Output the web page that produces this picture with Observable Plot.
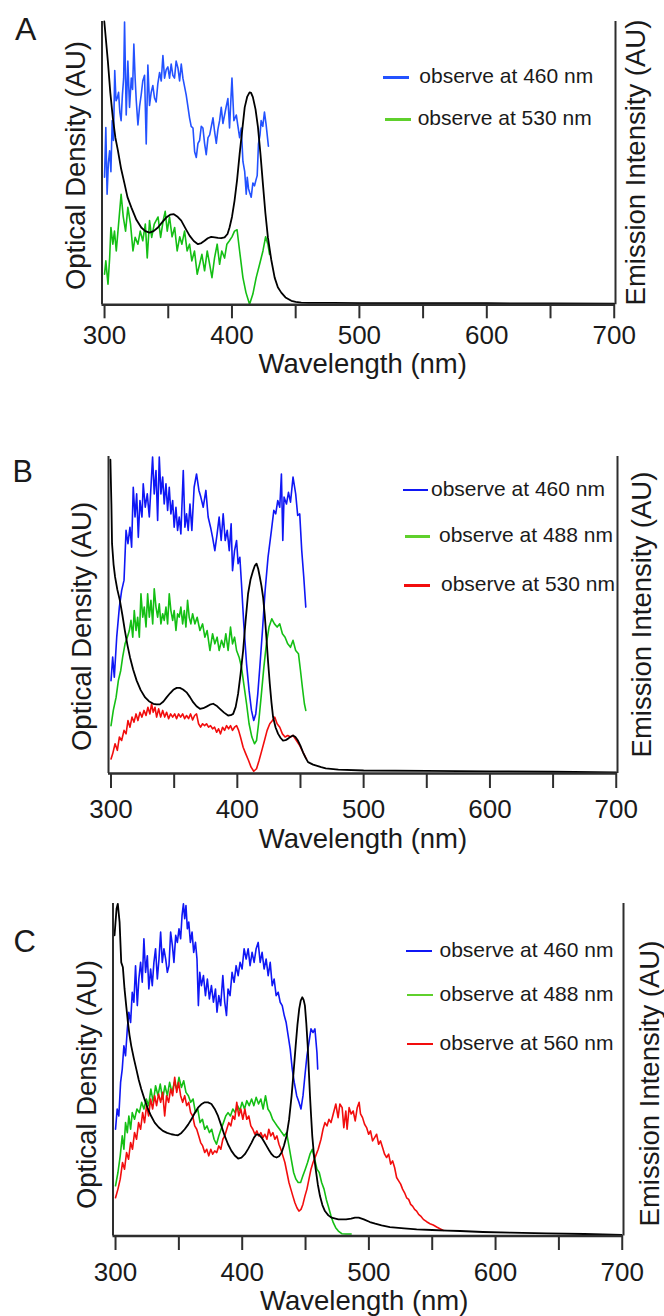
<!DOCTYPE html>
<html>
<head>
<meta charset="utf-8">
<script src="https://cdn.jsdelivr.net/npm/d3@7"></script>
<script src="https://cdn.jsdelivr.net/npm/@observablehq/plot@0.6"></script>
<style>
  html, body { margin: 0; padding: 0; background: #fff; }
  #root { position: relative; width: 664px; height: 1316px; overflow: hidden;
          font-family: "Liberation Sans", Arial, Helvetica, sans-serif; color: #1a1a1a; }
  .panel { position: absolute; left: 0; }
  .txt { position: absolute; white-space: nowrap; }
  .bar { position: absolute; }
</style>
</head>
<body>
<div id="root"></div>
<script>
// ---------------- axis / text data ----------------
const xDomain = [298, 701];
const yDomain = [0, 100];
const tickValues = [300, 350, 400, 450, 500, 550, 600, 650, 700];
const tickLabelValues = [300, 400, 500, 600, 700];
const xTitle = "Wavelength (nm)";
const leftTitle = "Optical Density (AU)";
const rightTitle = "Emission Intensity (AU)";
const panelLetters = ["A", "B", "C"];
const legendA = ["observe at 460 nm", "observe at 530 nm"];
const legendB = ["observe at 460 nm", "observe at 488 nm", "observe at 530 nm"];
const legendC = ["observe at 460 nm", "observe at 488 nm", "observe at 560 nm"];

// ---------------- panel A series [wavelength nm, relative value] ----------------
const odA = [[299.8,100],[301,94],[302.6,86],[304.5,75],[306.5,66],[308.5,59],[310.5,54.4],[313,48],[315.7,42.7],[318,38],[321,34.4],[325,30],[328.8,27.3],[332,26],[335.3,25.5],[338.5,26],[341.9,27.3],[345,29],[348.4,30.8],[351.5,31.8],[354.4,32],[357,31.2],[360.2,29.7],[363.5,27],[366.7,24.4],[370,22.5],[373.3,21.4],[376,21.8],[378.5,22.6],[381,23.5],[383.7,24],[386.5,23.8],[389,23.6],[391.5,23.5],[394.2,23.8],[396.5,25],[398.1,27.3],[400,31],[402,36.7],[404,44],[406,53.2],[408,61.5],[410,69.7],[412,73.5],[413.8,75],[415,74.8],[416.4,73.3],[418.5,69],[420.4,62.7],[422.4,53],[424.3,42.6],[426.2,32.5],[428.2,23.8],[430.8,16],[433.5,9.6],[436,6.2],[438.7,4.3],[442,2.6],[446.6,1.4],[450,1.0],[454.4,0.8],[460,0.7],[470,0.7],[480,0.65],[500,0.6],[550,0.6],[600,0.55],[650,0.5],[700,0.4]];
const em460A = [[300,45],[301,62.6],[302,39],[303,50],[304,54.4],[305,47],[306,65],[307,58],[308,82.7],[309,72],[310,73],[311,75],[312,68],[313,65],[314,74],[315,80],[315.7,99.8],[317,67],[318.3,86],[319.6,69.7],[321,80],[322,76],[323,92],[324,80],[324.9,72],[326.2,63.5],[327.5,70],[328.8,74.3],[330,79],[331.4,81],[332.7,56.8],[334,84.6],[335.3,70.4],[336.6,75],[337.9,77.4],[339.2,73],[340.5,71.6],[341.8,78],[343.2,82],[344.5,79],[345.8,88],[347.1,80],[348.4,83],[349.7,84],[351,80],[352.3,85],[353.6,81],[354.9,80],[356.2,86],[357.6,83.6],[358.9,79],[360.2,85],[361.5,80],[362.8,77],[364.1,74],[365.4,70],[366.7,66],[368,63],[369.4,62.4],[370.7,54],[372,52],[373.3,57],[374.6,58],[375.9,63],[377.2,62.4],[378.5,57],[379.8,53],[381.2,59],[382.5,60],[383.8,63],[385.1,66],[386.4,61],[387.7,57],[389,62],[390.3,65],[391.6,69.7],[392.9,64],[394.2,67],[395.5,70],[396.8,72.8],[398.1,62.4],[399,71],[400,80],[401.5,65],[403.4,67],[404.7,63],[406,59],[407.3,62.4],[408.6,50.6],[410,47],[411.2,39],[412,45],[413,41],[414,39.5],[415.1,38],[416.4,43],[417.7,42],[418.8,44],[419.8,45.6],[420.8,56.8],[422,60],[422.9,65],[424.2,63],[425.5,68],[426.8,63.6],[428.6,56]];
const em530A = [[300,10.8],[301,15.5],[302.7,7.3],[304,16.5],[305,27.3],[306.5,21.4],[307.8,26],[309.2,19],[311,28.5],[313,39],[314.7,31],[316.5,26],[318.3,34.4],[320.4,28.5],[322.3,19],[324,23.8],[326.2,21.4],[328,26],[330,22.6],[332,28.5],[333.5,16.5],[335.3,29.7],[337,23.8],[339,28.5],[342,31],[344,23.8],[346,29.7],[347.6,33],[349.2,26],[351,31],[353,24],[355,27.3],[357,19],[359,24],[360.7,21.4],[362.8,26],[364.8,19],[366.7,21.4],[368.5,15.5],[370.6,19],[372.7,10.8],[374.6,14.3],[376.4,17.8],[378.5,12],[380.6,19],[382.5,14.3],[384.3,9.6],[386.3,16.5],[388.4,21.4],[390.3,14.3],[392,19],[394.2,16.5],[396,21.4],[398,22.6],[400,24],[402,26],[404,26.5],[406,19],[408.6,9.6],[411,4.3],[413.8,0.2],[416.4,3.8],[419,9.6],[421.7,14.3],[424.3,19],[426.4,24],[428.2,21.4],[429.5,17.8]];

// ---------------- panel B series ----------------
const odB = [[299.5,99],[300.3,85],[300.8,72.5],[302,66],[303.2,62],[305,58],[307,54.6],[309,50],[311,45],[313,40.5],[315,36.7],[317.5,32.8],[320.3,29.3],[323.5,26.3],[327,24],[330,22.8],[333.5,22],[336,21.8],[338.7,21.8],[341.5,22.7],[344,24],[346.7,25.3],[349.3,26.4],[352,27],[354.5,27],[357,26.5],[359.8,25.6],[362.5,24.1],[365,22.5],[367.7,21.2],[370.4,20.4],[373,20.6],[375.6,21.1],[378.3,21.7],[380.9,22],[383.5,21.4],[386.2,20.4],[389.5,19.2],[392.7,18.3],[394.8,18.4],[396.7,18.8],[398.7,21],[400.6,25.1],[402.6,31.5],[404.6,38.8],[406.5,48],[408.5,56.7],[410.5,61.3],[412.5,64],[413.9,65.6],[415.2,66.2],[416.5,64.6],[417.8,62],[419.1,59.2],[420.4,55.6],[421.7,50],[423,43],[424.3,35.5],[425.7,28.3],[427,22.5],[428.3,17.8],[430.3,14.5],[432.3,12.5],[434.3,11.2],[436.2,10.4],[438.2,10.5],[440.2,11],[442.1,11.6],[444.1,12],[446,11.5],[448,10.4],[450,8.7],[452,6.7],[454,5],[456,3.6],[460,2.8],[466.4,2],[470,1.6],[480,1.2],[500,0.95],[550,0.8],[600,0.7],[650,0.55],[700,0.35]];
const em460B = [[300,29.3],[301.3,36.7],[302.6,30.4],[304.5,43],[306.6,52.5],[308.4,57.7],[310.3,61],[311.9,76.7],[313.4,72.5],[315,77.7],[316.3,71.4],[317.6,90.3],[319,80.9],[320.3,88.2],[321.6,74.5],[322.9,86.1],[324.5,80.9],[325.5,91.4],[327.1,84],[328.7,88.2],[330.3,80.9],[331.6,90.3],[332.9,99.8],[334.2,88.2],[335.6,95.6],[336.9,79.8],[338.2,99.8],[339.5,88.2],[340.9,93.5],[342.1,85],[343.5,91.4],[344.8,83],[346.1,90.3],[347.4,81.9],[348.8,86.1],[350,77.7],[351.4,84],[352.7,76.7],[354,80.9],[355.3,75.6],[357.2,95.6],[358.5,77.7],[359.8,81.9],[361.1,76.7],[362.5,85],[364,76.7],[365.8,90.3],[367.7,94.5],[369.6,89.3],[371.1,87.2],[373,84],[375.1,89.3],[376.9,80.9],[378.8,77.7],[380.4,74.5],[382.2,70.3],[384,75.6],[385.6,80.9],[387.2,73.5],[388.8,81.9],[390.4,73.5],[392,76.7],[393.6,70.3],[395.1,78.8],[396.2,64],[397.8,70.3],[399.4,73.5],[400.6,66.2],[402,68.2],[403.3,59.8],[405.1,47.2],[407.3,34.6],[409.3,26.2],[411.2,19.9],[413,16.7],[414.6,18.8],[416.2,25.1],[417.8,33.5],[419.9,45.1],[422,57.7],[424.3,68.2],[427,76.7],[428.9,83],[430.4,81.9],[432,86.1],[433.6,84],[434.9,94.5],[436,73.5],[437,87.2],[438.9,85],[440.5,88.7],[442.1,85.6],[444.1,93.5],[446.2,88.2],[447.8,81.4],[449.4,81.9],[451,70.3],[452.6,62],[454.2,52.5]];
const em488B = [[300,15.1],[301.8,19.9],[304,24],[305.8,29.3],[307.7,32.5],[309.2,36.7],[311.1,40.9],[312.9,43],[314.5,45.1],[315.8,48.3],[317.2,43],[318.4,51.4],[319.8,45.1],[321.1,49.3],[322.4,43],[323.7,56.7],[325.1,49.3],[326.3,52.5],[327.7,46.2],[329,56.7],[330.3,49.3],[331.6,54.6],[333,47.2],[334.2,58.3],[335.6,52.5],[336.9,49.3],[338.2,53.5],[339.5,47.2],[340.9,50.4],[342.1,48.3],[343.5,52.5],[344.8,47.2],[346.1,56.7],[347.4,51.4],[348.8,48.3],[350,51.4],[351.4,45.1],[352.7,50.4],[354,49.3],[355.3,52.5],[356.7,47.2],[358,51.4],[359.3,46.2],[360.6,54.6],[361.9,49.3],[363.2,47.2],[364.6,50.4],[366.4,47.2],[368.2,49.3],[370.4,45.1],[372.5,47.2],[374.3,43],[376.1,45.1],[378.3,38.8],[380.4,44.1],[382.2,40.9],[384,43],[385.6,38.8],[387.5,42],[389.3,39.8],[390.9,44.1],[392.7,38.8],[394.6,46.2],[396.2,40.9],[397.8,43],[399.4,38.8],[401.4,36.7],[403.3,33.5],[405.1,28.3],[407.3,22],[409.3,15.7],[411.5,11.5],[413.6,9.4],[415.2,10.4],[416.8,15.7],[418.8,24],[421,33.5],[423,40.9],[425.1,46.2],[427.3,48.8],[429.4,47.2],[431.5,46.2],[433.6,47.2],[435.7,44.1],[437.8,43],[439.9,40.9],[442.1,39.8],[444.1,42],[446.2,38.8],[448.4,37.8],[450,32.5],[451.5,27.2],[453.1,22],[454.2,19.9]];
const em530B = [[300,4.6],[301.3,6.2],[303.2,9.4],[305,7.3],[306.6,11.5],[308.4,10.4],[310.3,13.6],[311.9,12.5],[313.4,16.7],[315,14.6],[316.6,17.8],[318.2,16.2],[319.8,18.8],[321.3,16.7],[322.9,19.3],[324.5,17.8],[326.1,19.9],[327.7,18.3],[329.2,20.9],[330.8,18.8],[332.1,22],[333.4,19.3],[334.8,20.9],[336.1,17.8],[337.7,20.4],[339.3,17.8],[340.9,19.9],[342.5,17.8],[344,19.3],[345.6,17.3],[347.2,18.8],[348.8,17.8],[350.4,18.8],[351.9,17.3],[353.5,18.8],[355.1,17.8],[356.7,18.8],[358.3,17.3],[359.8,18.3],[361.4,17.3],[363,18.8],[364.6,16.9],[366.2,18.3],[367.7,18.8],[369.3,15.7],[370.9,14.6],[372.5,15.7],[374.1,15.1],[375.6,15.7],[377.2,14.6],[378.8,15.1],[380.4,14.1],[382,14.6],[383.6,13],[385.1,14.1],[386.7,12.5],[388.3,14.6],[389.9,13.6],[391.5,15.1],[393.1,14.1],[394.6,15.1],[396.2,13.6],[397.8,14.6],[399.4,15.1],[401,13.6],[402.5,11.5],[404.6,8.3],[406.7,6.2],[408.9,4.1],[410.9,2],[413,0.7],[415.2,1.5],[417.2,4.1],[419.4,7.3],[421.5,10.4],[423.6,13.6],[425.7,15.7],[427.8,16.7],[429.6,17.8],[431.5,15.7],[433.6,14.6],[435.7,12.5],[437.8,11.5],[439.9,12],[442.1,11.5],[444.1,12],[446.8,10.4],[449.4,8.8],[452,6.7],[454.7,4.6]];

// ---------------- panel C series ----------------
const odC = [[299.2,90.4],[300.8,98.4],[301.8,99.9],[303.2,94.4],[304.5,82.3],[305.8,80.8],[307.1,74.3],[308.5,69],[309.8,64.2],[311,60.5],[312.4,57.2],[314.4,53.5],[316.4,50.2],[318.3,47],[320.3,44.2],[323,41],[325.6,38.2],[328.2,36],[330.9,34.1],[334,32.7],[337.4,31.6],[340.7,31],[344.1,30.6],[346.7,30.4],[349.3,30.3],[352,31],[354.6,32.1],[357.3,33.5],[359.9,35.1],[362.5,37],[365.1,38.6],[367.7,39.6],[370.4,40.2],[373,40.2],[375.7,39.7],[378.3,38.2],[380.9,36.1],[383.5,33.2],[386.2,30.1],[388.8,27.6],[391.5,25.6],[394.1,24.2],[396.8,23.3],[399.4,23.6],[402.1,24.6],[404.7,26.2],[407.4,28.1],[409.3,29.6],[411.3,30.6],[413.3,30.4],[415.3,29.6],[417.2,28.4],[419.2,27.1],[421.2,25.8],[423.2,24.6],[425.1,23.9],[427.1,23.6],[429.1,24],[431.1,25.1],[433,27.2],[435,30.1],[437,35],[439,42.2],[440.6,49.5],[442.2,57.2],[443.6,63.5],[445,68.3],[446.2,70.8],[447.4,71.8],[448.5,71],[449.5,69.3],[450.6,64],[451.7,57.2],[452.6,49.5],[453.5,42.2],[454.4,36],[455.3,30.1],[456.6,24.5],[458,20.1],[459.7,15.5],[461.4,12],[463.3,9.3],[465.3,7.5],[468,6.2],[470.6,5.5],[475.9,5],[482,5],[486,5.2],[489,5.5],[492,5.5],[496,5],[500.8,4.2],[505,3.7],[510,3.2],[516.6,2.7],[527.8,2.3],[537.7,2],[550,1.8],[561.7,1.6],[572,1.5],[590,1.2],[612,1],[640,0.8],[670,0.6],[699.5,0.3]];
const em460C = [[300,32.1],[301.3,38.2],[302.6,36.1],[304,46.2],[305.3,50.2],[306.6,57.2],[307.9,54.2],[309.3,62.3],[310.5,67.3],[311.9,64.2],[313.2,73.3],[314.5,70.3],[315.8,81.3],[317.2,69.3],[318.4,77.3],[319.8,82.3],[321.1,76.3],[322.4,89.4],[323.7,79.3],[325.1,84.3],[326.3,74.3],[327.7,80.3],[329,75.3],[330.3,82.3],[331.6,86.4],[333,77.3],[334.3,83.3],[335.6,91.4],[336.9,82.3],[338.2,86.4],[339.6,83.3],[340.9,79.3],[342.2,81.3],[343.5,91.4],[344.9,87.3],[346.1,82.3],[347.5,90.4],[348.8,88.3],[350.1,92.4],[351.4,89.4],[352.5,96.4],[353.6,99.9],[354.6,95.4],[355.6,99.4],[356.7,92.4],[357.8,94.4],[359.1,88.3],[360.4,91.4],[361.7,85.3],[363.1,88.3],[364.3,83.3],[365.4,69.3],[366.5,79.3],[367.8,75.3],[369.4,78.3],[371,72.3],[372.5,77.3],[374.1,71.3],[375.7,75.3],[377.3,70.3],[378.9,74.3],[380.1,67.3],[381.5,72.3],[383,69.3],[384.7,78.3],[386.2,70.3],[387.6,66.3],[388.8,74.3],[390.4,72.3],[392,79.3],[393.6,76.3],[395.2,81.3],[396.8,78.3],[398.3,82.3],[399.9,80.3],[401.5,86.4],[403.1,83.3],[404.7,86.4],[406.2,81.3],[407.8,85.3],[409.4,82.3],[411,86.4],[412.6,88.3],[414.2,82.3],[415.7,85.3],[417.3,80.3],[418.9,83.3],[420.5,78.3],[422.1,82.3],[423.7,75.3],[425.2,77.3],[426.8,72.3],[428.4,73.3],[430,70.3],[431.6,69.3],[433.2,66.3],[434.7,64.2],[436.3,60.2],[437.9,56.2],[439.5,50.2],[441.1,46.2],[443,42.2],[444.8,40.2],[446.4,38.2],[448,42.2],[449.5,48.2],[451.1,54.2],[452.7,58.2],[454.3,62.3],[455.9,61.2],[457.4,62.3],[459,55.2],[459.6,50.2]];
const em488C = [[300,15.1],[301.9,19.1],[303.7,24.1],[305.3,30.1],[306.6,26.1],[307.9,34.1],[309.3,31.1],[310.5,36.1],[311.9,32.1],[313.2,37.1],[315,35.1],[316.9,38.2],[318.8,37.1],[320.6,40.2],[322.4,38.2],[324.3,41.2],[326.1,39.2],[327.9,44.2],[329.8,40.2],[331.6,45.2],[333.5,42.2],[335.3,45.7],[337.2,41.2],[339,45.2],[340.9,42.2],[342.7,46.2],[344.5,43.2],[346.4,46.2],[348.3,44.2],[350.1,47.7],[352,44.7],[353.8,46.7],[355.6,43.2],[357.5,42.2],[359.3,40.2],[361.2,41.2],[363.1,37.1],[364.9,38.2],[366.7,34.1],[368.6,35.1],[370.4,32.1],[372.2,33.1],[374.1,31.1],[375.9,32.1],[377.8,29.1],[379.7,27.6],[381.5,30.1],[383.3,32.1],[385.2,34.1],[387,36.1],[388.8,37.1],[390.7,36.1],[392.6,38.2],[394.4,37.1],[396.3,39.2],[398.1,37.7],[399.9,40.2],[401.8,38.2],[403.6,40.7],[405.5,39.2],[407.4,41.2],[409.2,39.2],[411,41.7],[412.9,39.7],[414.7,41.2],[416.5,38.2],[418.4,42.2],[420.3,38.2],[422.1,37.1],[424,35.1],[425.8,34.1],[427.6,33.1],[429.5,32.1],[431.3,31.1],[433.2,30.1],[435,31.1],[436.9,27.1],[438.7,23.1],[440.6,19.1],[442.4,17.1],[444.2,16.1],[446.1,16.1],[447.9,18.1],[449.8,20.1],[451.6,22.1],[453.5,24.6],[455.3,26.1],[457.2,23.1],[459,20.1],[460.8,19.1],[462.7,16.1],[464.6,14.1],[466.4,11],[468.3,8.5],[470.1,6],[471.9,4],[473.8,2.5],[475.9,1.5],[478.6,0.7],[482,0.6],[486,0.6]];
const em560C = [[300,11.5],[301.9,14.1],[303.7,17.1],[305.5,22.1],[307.1,20.1],[308.7,25.1],[310.3,23.1],[311.9,28.1],[313.4,26.1],[315,31.1],[316.6,29.1],[318.2,34.1],[319.8,32.1],[321.4,37.1],[322.9,34.1],[324.5,39.2],[326.1,36.1],[327.7,41.2],[329.3,38.2],[330.9,42.2],[332.4,39.2],[334,42.7],[335.6,40.2],[337.2,43.2],[338.8,36.1],[340.3,42.2],[341.9,40.2],[343.5,44.2],[345.1,42.2],[346.7,47.7],[348.3,43.2],[349.8,46.2],[351.4,42.2],[353,40.2],[354.6,42.2],[356.2,39.2],[357.8,40.2],[359.3,37.1],[360.9,36.1],[362.5,33.1],[364.1,32.1],[365.7,30.1],[367.2,28.1],[368.8,27.1],[370.4,25.1],[372,26.1],[373.6,24.1],[375.2,26.1],[376.7,24.6],[378.3,25.6],[379.9,25.1],[381.5,27.1],[383.1,26.1],[384.7,29.1],[386.2,30.1],[387.8,32.1],[389.4,34.1],[391,33.1],[392.6,36.1],[394.1,35.1],[395.7,40.2],[397.3,36.1],[398.9,38.2],[400.5,35.1],[402.1,38.2],[403.6,35.1],[405.2,36.1],[406.8,33.1],[408.4,32.1],[410,30.6],[411.6,31.6],[413.1,30.1],[414.7,31.1],[416.3,29.6],[417.9,30.6],[419.5,29.1],[421,32.1],[422.6,30.1],[424.2,31.1],[425.8,29.1],[427.4,30.1],[429,27.6],[430.5,26.1],[432.1,24.1],[433.7,22.1],[435.3,19.1],[436.9,16.1],[438.4,14.1],[440,12],[441.6,10],[443.2,8.5],[444.8,7.5],[446.4,8],[447.9,9.5],[449.5,12],[451.1,14.1],[452.7,17.1],[454.3,20.1],[455.9,22.1],[458,24.1],[460,26.1],[462.2,29.1],[463.8,32.1],[465.3,34.1],[466.9,33.1],[468.5,35.1],[470.1,34.1],[471.8,36.6],[473.9,39.7],[475.7,35.6],[477.1,39.7],[478.9,38.6],[480.2,32.6],[481.8,37.6],[482.8,32.1],[484.4,38.6],[486,36.7],[487.6,37.6],[489.2,34.6],[490.8,38.6],[492.3,40.2],[493.4,36.7],[495,35.6],[496.6,33.6],[498.2,32.6],[499.8,30.6],[501.3,31.6],[502.9,28.6],[504.5,29.6],[506.1,30.6],[507.7,27.6],[509.2,28.6],[510.8,26.6],[512.4,24.6],[514,23.6],[515.6,24.6],[517.2,21.6],[518.7,22.6],[520.3,20.6],[521.9,17.6],[523.5,16.6],[525.1,15.6],[526.6,14.1],[528.2,13],[529.8,11.5],[531.4,11],[533,9.5],[534.5,9],[536.1,8],[537.7,7.5],[539.3,6.5],[540.9,6],[543,5],[545.6,4.3],[548.2,3.7],[550.8,3.3],[553.5,2.7],[556.1,2.2],[558.7,1.7]];

// ---------------- styles & layout (not data) ----------------
const FONT = "'Liberation Sans', Arial, Helvetica, sans-serif";
const INK = "#1a1a1a";
const AXIS = "#2e2e2e";
const BLACK = "#000000";
const BLUE_A = "#2352ff";
const BLUE = "#0f17f5";
const GREEN = "#14bf14";
const GREEN_LEG = "#5fd02c";
const RED = "#f20d0d";

const panels = [
  { letter: panelLetters[0], legend: legendA,
    series: [[em460A, BLUE_A], [em530A, GREEN], [odA, BLACK]],
    legendColors: [BLUE_A, GREEN_LEG],
    top: 0, height: 420, mt: 21, mb: 115.7, ml: 101.5, mr: 49,
    tick: 14, pad: 7, xdx: 4, xdy: 67.7, ldx: -17, ldy: 2.4, rdx: 29, rdy: -0.6,
    letterPos: { left: 15, base: 40, size: 32 },
    legendPos: [ {x0: 383, x1: 409, y: 77.7, tx: 419.3}, {x0: 385, x1: 411, y: 119.3, tx: 417.7} ] },
  { letter: panelLetters[1], legend: legendB,
    series: [[em460B, BLUE], [em488B, GREEN], [em530B, RED], [odB, BLACK]],
    legendColors: [BLUE, GREEN_LEG, RED],
    top: 420, height: 440, mt: 36, mb: 87, ml: 108, mr: 47,
    tick: 15, pad: 11.5, xdx: 0, xdy: 74, ldx: -18, ldy: 11.5, rdx: 33, rdy: -0.5,
    letterPos: { left: 12.5, base: 481.7, size: 30.5 },
    legendPos: [ {x0: 403, x1: 428, y: 490, tx: 431}, {x0: 405, x1: 430, y: 536.7, tx: 439}, {x0: 404, x1: 430, y: 585.7, tx: 441} ] },
  { letter: panelLetters[2], legend: legendC,
    series: [[em460C, BLUE], [em488C, GREEN], [em560C, RED], [odC, BLACK]],
    legendColors: [BLUE, GREEN_LEG, RED],
    top: 860, height: 456, mt: 43, mb: 80.5, ml: 112.5, mr: 41,
    tick: 14.5, pad: 12.5, xdx: -4, xdy: 74.3, ldx: -17.5, ldy: 14.8, rdx: 35, rdy: 13.8,
    letterPos: { left: 13.5, base: 952.5, size: 31 },
    legendPos: [ {x0: 406, x1: 432, y: 951, tx: 439.5}, {x0: 407, x1: 433, y: 995, tx: 439.5}, {x0: 407, x1: 433, y: 1044, tx: 439.5} ] }
];

const root = document.getElementById("root");

function makePanel(p) {
  const lines = p.series.map(([data, color]) =>
    Plot.line(data, { x: d => d[0], y: d => d[1], stroke: color, strokeWidth: color === BLACK ? 1.8 : 1.6 }));
  const svg = Plot.plot({
    width: 664, height: p.height,
    marginTop: p.mt, marginBottom: p.mb, marginLeft: p.ml, marginRight: p.mr,
    x: { type: "linear", domain: xDomain },
    y: { type: "linear", domain: yDomain, axis: null },
    style: { fontFamily: FONT, color: INK, background: "transparent", overflow: "visible" },
    marks: [
      ...lines,
      Plot.ruleX(xDomain, { stroke: AXIS, strokeWidth: 2 }),
      Plot.ruleY([yDomain[0]], { stroke: AXIS, strokeWidth: 2.5 }),
      Plot.axisX({
        ticks: tickValues,
        tickFormat: d => (tickLabelValues.includes(d) ? String(d) : ""),
        tickSize: p.tick, tickPadding: p.pad, fontSize: 26, strokeWidth: 2,
        stroke: AXIS, fill: INK, label: null
      }),
      Plot.text([xTitle], { text: d => d, frameAnchor: "bottom", lineAnchor: "bottom",
        dx: p.xdx, dy: p.xdy, fontSize: 27.5, fill: INK }),
      Plot.text([leftTitle], { text: d => d, frameAnchor: "left", rotate: -90, textAnchor: "middle",
        lineAnchor: "bottom", dx: p.ldx, dy: p.ldy, fontSize: 27.5, fill: INK }),
      Plot.text([rightTitle], { text: d => d, frameAnchor: "right", rotate: -90, textAnchor: "middle",
        lineAnchor: "bottom", dx: p.rdx, dy: p.rdy, fontSize: 27.5, fill: INK })
    ]
  });
  const wrap = document.createElement("div");
  wrap.className = "panel";
  wrap.style.top = p.top + "px";
  wrap.appendChild(svg);
  root.appendChild(wrap);

  // panel letter
  const L = document.createElement("div");
  L.className = "txt";
  const ls = p.letterPos;
  L.style.cssText += `left:${ls.left}px;top:${ls.base - 0.8466 * ls.size}px;font-size:${ls.size}px;line-height:${ls.size}px;color:${INK};`;
  L.textContent = p.letter;
  root.appendChild(L);

  // legend
  p.legend.forEach((label, i) => {
    const pos = p.legendPos[i];
    const bar = document.createElement("div");
    bar.className = "bar";
    bar.style.cssText = `left:${pos.x0}px;top:${pos.y - 1.25}px;width:${pos.x1 - pos.x0}px;height:2.5px;background:${p.legendColors[i]};`;
    root.appendChild(bar);
    const t = document.createElement("div");
    t.className = "txt";
    const base = pos.y + 5.5;
    t.style.cssText += `left:${pos.tx}px;top:${base - 17.77}px;font-size:21px;line-height:21px;color:${INK};`;
    t.textContent = label;
    root.appendChild(t);
  });
}

panels.forEach(makePanel);
</script>
</body>
</html>
